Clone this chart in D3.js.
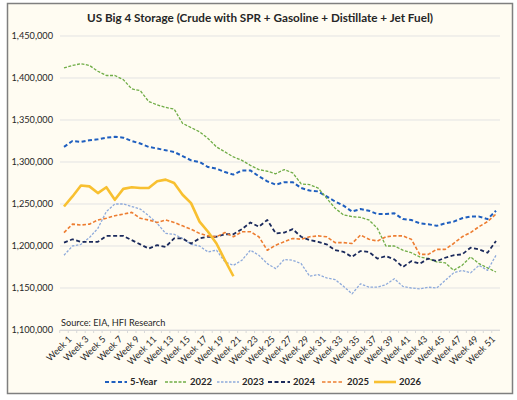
<!DOCTYPE html>
<html>
<head>
<meta charset="utf-8">
<script src="https://cdn.jsdelivr.net/npm/d3@7"></script>
<style>
  body { margin: 0; background: #fff; }
  text { font-family: Lato, "Open Sans", sans-serif; fill: #262626; }
</style>
</head>
<body>
<svg id="chart" width="517" height="400"></svg>
<script>
// weekly storage, thousand barrels
const weeks = d3.range(1, 53).map(w => `Week ${w}`);
const yTicks = [1100000, 1150000, 1200000, 1250000, 1300000, 1350000, 1400000, 1450000];

const fiveYear = [1318,1325,1324,1326,1327,1329,1330,1329,1325,1322,1318,1316,1314,1312,1307,1302,1300,1294,1292,1288,1285,1290,1290,1283,1277,1273,1276,1276,1269,1266,1265,1259,1253,1248,1241,1244,1242,1238,1238,1239,1232,1231,1227,1226,1224,1227,1229,1233,1235,1235,1232,1242];
const y2022 = [1412,1415,1417,1415,1408,1403,1403,1398,1387,1385,1372,1368,1365,1363,1346,1341,1336,1328,1318,1312,1306,1302,1296,1291,1289,1286,1291,1287,1274,1273,1269,1257,1245,1237,1235,1234,1231,1221,1200,1200,1195,1192,1187,1185,1181,1180,1171,1177,1187,1179,1174,1169];
const y2023 = [1189,1200,1202,1210,1221,1241,1250,1250,1247,1244,1236,1227,1215,1214,1209,1202,1200,1193,1195,1181,1177,1183,1195,1189,1179,1173,1184,1183,1179,1164,1166,1162,1160,1152,1143,1155,1151,1151,1154,1161,1152,1150,1149,1151,1150,1159,1168,1171,1168,1177,1171,1189];
const y2024 = [1204,1208,1205,1205,1205,1212,1212,1212,1207,1202,1197,1201,1199,1209,1209,1203,1209,1211,1211,1214,1214,1220,1228,1223,1231,1215,1216,1220,1211,1207,1205,1202,1195,1193,1187,1194,1193,1185,1188,1184,1175,1182,1179,1185,1182,1186,1189,1190,1198,1196,1192,1206];
const y2025 = [1216,1226,1225,1226,1231,1233,1236,1238,1240,1233,1231,1228,1231,1228,1224,1220,1215,1212,1211,1216,1211,1217,1217,1211,1195,1201,1205,1209,1208,1211,1212,1211,1204,1204,1203,1213,1208,1206,1211,1212,1212,1208,1190,1190,1196,1196,1203,1211,1216,1223,1229,1238];
const y2026 = [1247,1259,1272,1271,1263,1270,1255,1268,1270,1269,1269,1277,1279,1275,1261,1251,1229,1217,1203,1183,1164];

const seriesNames = ['5-Year', '2022', '2023', '2024', '2025', '2026'];
const seriesValues = [fiveYear, y2022, y2023, y2024, y2025, y2026];
const seriesStyle = {
  '5-Year': {color: '#1f5fbf', width: 2, dash: '4,2.5'},
  '2022':   {color: '#70ad47', width: 1.3, dash: '3,1.5'},
  '2023':   {color: '#8eaadb', width: 1.3, dash: '2.5,1.5'},
  '2024':   {color: '#1b2a5c', width: 1.8, dash: '4,2.5'},
  '2025':   {color: '#ed7d31', width: 1.6, dash: '3.5,2'},
  '2026':   {color: '#f8c030', width: 2.6, dash: null}
};

const svg = d3.select('#chart');

// outer frame
svg.append('rect')
  .attr('x', 7.5).attr('y', 3.5)
  .attr('width', 505).attr('height', 390)
  .attr('fill', '#fffcf2')
  .attr('stroke', '#7f7f7f')
  .attr('stroke-width', 1.5);

svg.append('text')
  .attr('x', 260).attr('y', 22)
  .attr('text-anchor', 'middle')
  .attr('font-weight', 'bold')
  .attr('font-size', 11.7)
  .text('US Big 4 Storage (Crude with SPR + Gasoline + Distillate + Jet Fuel)');

const x = d3.scalePoint().domain(weeks).range([64, 496]);
const y = d3.scaleLinear().domain([1100000, 1450000]).range([330, 36]);

// gridlines
svg.append('g')
  .selectAll('line')
  .data(yTicks)
  .join('line')
  .attr('x1', 60).attr('x2', 500)
  .attr('y1', d => y(d)).attr('y2', d => y(d))
  .attr('stroke', '#e3e3e3')
  .attr('stroke-width', 1);

// y axis labels
const yAxis = svg.append('g')
  .attr('transform', 'translate(60,0)')
  .call(d3.axisLeft(y).tickValues(yTicks).tickSize(0).tickPadding(7).tickFormat(d3.format(',')));
yAxis.select('.domain').remove();
yAxis.selectAll('text')
  .attr('font-size', 9.2)
  .attr('font-family', 'Lato, sans-serif')
  .attr('fill', '#404040');

// x axis
const xAxis = svg.append('g')
  .attr('transform', `translate(0,${y(1100000)})`)
  .call(d3.axisBottom(x)
    .tickValues(weeks.filter((d, i) => i % 2 == 0))
    .tickSize(0).tickPadding(4));
xAxis.select('.domain').attr('d', 'M60,0.5H500').attr('stroke', '#d9d9d9');
xAxis.selectAll('text')
  .attr('font-size', 9.2)
  .attr('font-family', 'Lato, sans-serif')
  .attr('fill', '#404040')
  .attr('text-anchor', 'end')
  .attr('dy', '0.3em')
  .attr('transform', 'translate(3,5) rotate(-45)');
// little category ticks
svg.append('g')
  .selectAll('line')
  .data(weeks)
  .join('line')
  .attr('x1', d => x(d) - x.step() / 2).attr('x2', d => x(d) - x.step() / 2)
  .attr('y1', y(1100000)).attr('y2', y(1100000) + 3)
  .attr('stroke', '#d9d9d9');

// source note
svg.append('text')
  .attr('x', 61).attr('y', 326)
  .attr('font-size', 9.2)
  .attr('fill', '#404040')
  .text('Source: EIA, HFI Research');

// lines
const line = d3.line()
  .x((d, i) => x(weeks[i]))
  .y(d => y(d * 1000));

svg.append('g')
  .selectAll('path')
  .data(seriesNames)
  .join('path')
  .attr('d', (name, i) => line(seriesValues[i]))
  .attr('fill', 'none')
  .attr('stroke', name => seriesStyle[name].color)
  .attr('stroke-width', name => seriesStyle[name].width)
  .attr('stroke-dasharray', name => seriesStyle[name].dash)
  .attr('stroke-linejoin', 'round');

// legend
const legendX = [105, 165, 217, 268, 322, 374];
const legend = svg.append('g')
  .selectAll('g')
  .data(seriesNames)
  .join('g')
  .attr('transform', (d, i) => `translate(${legendX[i]},382)`);
legend.append('line')
  .attr('x1', 0).attr('x2', 22)
  .attr('stroke', d => seriesStyle[d].color)
  .attr('stroke-width', d => seriesStyle[d].width)
  .attr('stroke-dasharray', d => seriesStyle[d].dash);
legend.append('text')
  .attr('x', 25).attr('y', 3.3)
  .attr('font-size', 9.5)
  .attr('font-weight', 'bold')
  .text(d => d);
</script>
</body>
</html>
